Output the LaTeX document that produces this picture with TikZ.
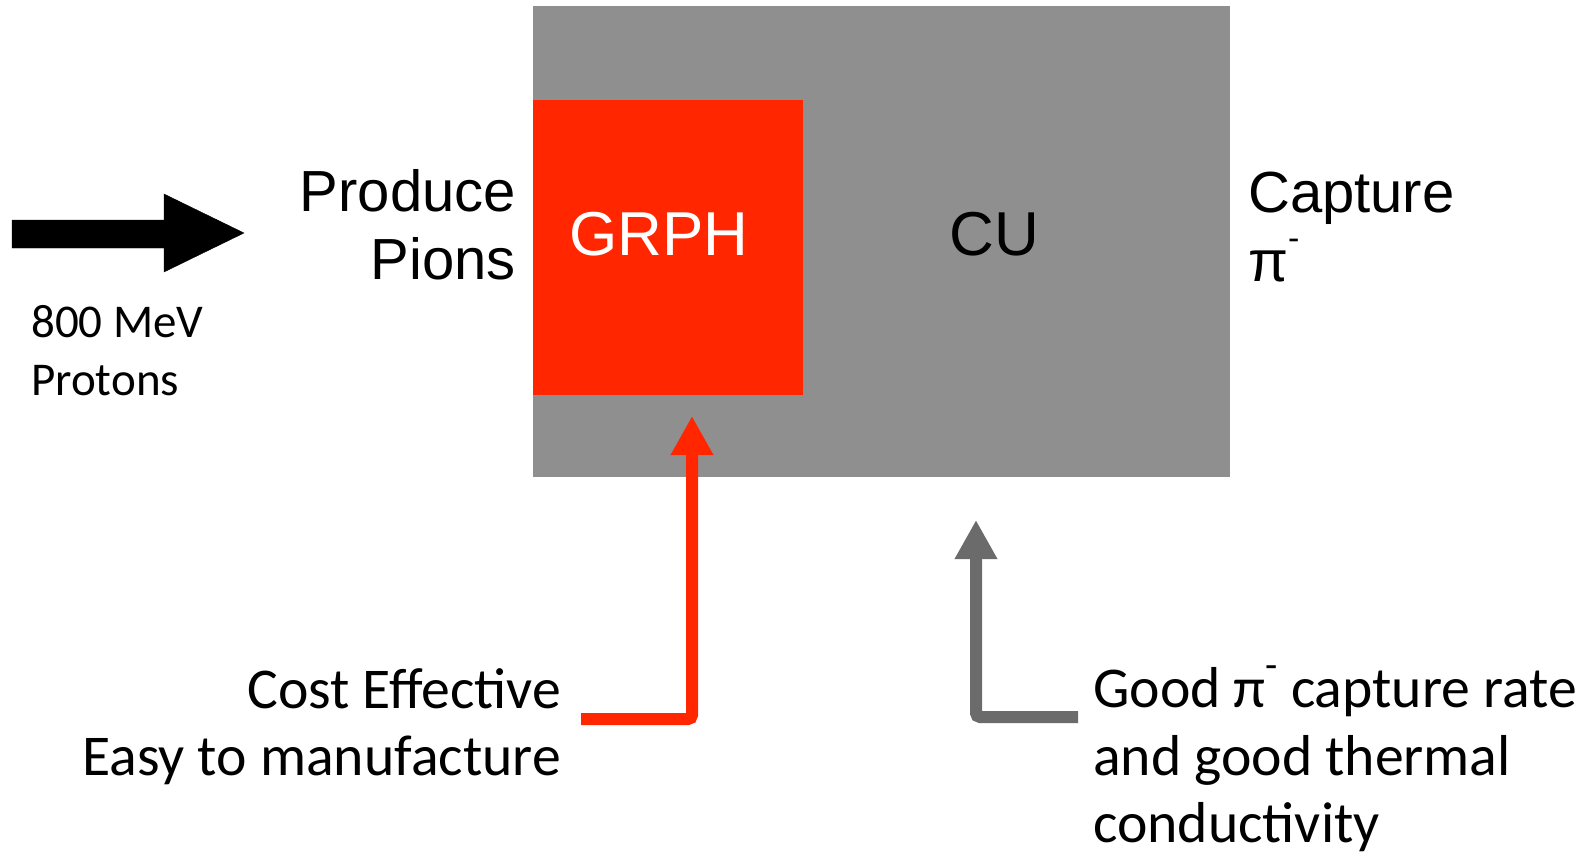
\documentclass[tikz,border=0pt]{standalone}
\usepackage{fontspec}
\setmainfont{Liberation Sans}
\newfontfamily\calib{Carlito}
\usetikzlibrary{arrows.meta}
\definecolor{boxgray}{HTML}{8F8F8F}
\definecolor{grphred}{HTML}{FF2600}
\definecolor{arrgray}{HTML}{6B6B6B}
\tikzset{
  arial/.style={font=\fontsize{58}{66}\selectfont, inner sep=0pt},
  boxlabel/.style={font=\fontsize{62}{70}\selectfont, inner sep=0pt},
  cal/.style={font=\calib\fontsize{57.7}{66}\selectfont, inner sep=0pt},
  calsmall/.style={font=\calib\fontsize{47}{54}\selectfont, inner sep=0pt},
  conn/.style={line width=12pt, rounded corners=4pt,
    -{Triangle[length=39pt, width=40pt]}},
}
\begin{document}
\begin{tikzpicture}[x=1pt, y=-1pt]
\useasboundingbox (0,0) rectangle (1590,856);
% boxes
\node[fill=boxgray, inner sep=0pt, minimum width=697pt, minimum height=471pt, anchor=north west] (cu) at (533,6) {};
\node[fill=grphred, inner sep=0pt, minimum width=270pt, minimum height=295pt, anchor=north west] (grph) at (533,100) {};
\node[boxlabel, text=white] (grphlabel) at (659,234) {GRPH};
\node[boxlabel] (culabel) at (994,234) {CU};
% beam arrow
\draw[fill=black] (12,220) -- (164,220) -- (164,194) -- (244,233) -- (164,272) -- (164,248) -- (12,248) -- cycle;
\node[calsmall, anchor=base west] (mev) at (31,337) {800 MeV};
\node[calsmall, anchor=base west] (protons) at (31,395) {Protons};
% left labels
\node[arial, anchor=base east] (produce) at (516,211) {Produce};
\node[arial, anchor=base east] (pions) at (516,279) {Pions};
% right labels
\node[arial, anchor=base west] (capture) at (1248,212) {Capture};
\node[arial, anchor=base west] (pi) at (1248,281) {π\raisebox{0.55em}{\fontsize{34}{34}\selectfont -}};
% bottom labels
\node[cal, anchor=base east] (cost) at (561,708) {Cost Effective};
\node[cal, anchor=base east] (easy) at (561,775) {Easy to manufacture};
\node[cal, anchor=base west] (good) at (1093,707) {Good π\raisebox{0.5em}{\fontsize{40}{40}\selectfont -} capture rate};
\node[cal, anchor=base west] (andgood) at (1093,775) {and good thermal};
\node[cal, anchor=base west] (conduct) at (1093,842) {conductivity};
% connectors
\coordinate (redstart) at (581,719);
\coordinate (redtip) at (692,416);
\coordinate (graystart) at (1078,717);
\coordinate (graytip) at (976,520);
\draw[conn, grphred] (redstart) -| (redtip);
\draw[conn, arrgray] (graystart) -| (graytip);
\end{tikzpicture}
\end{document}
